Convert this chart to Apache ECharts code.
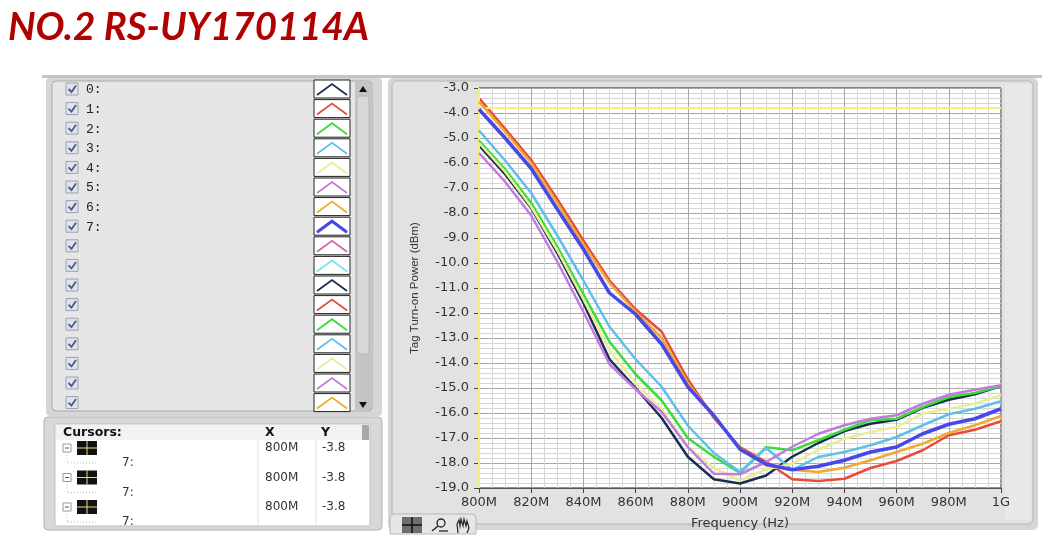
<!DOCTYPE html>
<html><head><meta charset="utf-8">
<script src="https://cdn.jsdelivr.net/npm/echarts@6/dist/echarts.min.js"></script>
<style>html,body{margin:0;padding:0;background:#fff}#c{width:1053px;height:550px}</style>
</head><body><div id="c"></div>
<script>
// ---- data ----
const titleText = 'NO.2 RS-UY170114A';
const freqs = [800,810,820,830,840,850,860,870,880,890,900,910,920,930,940,950,960,970,980,990,1000];
const s0 = [-5.3,-6.45,-7.8,-9.6,-11.6,-13.85,-15.0,-16.2,-17.75,-18.65,-18.82,-18.5,-17.75,-17.2,-16.72,-16.43,-16.27,-15.79,-15.47,-15.25,-14.92];
const s1 = [-3.4,-4.63,-5.88,-7.45,-9.1,-10.7,-11.85,-12.75,-14.65,-16.2,-17.36,-17.95,-18.65,-18.72,-18.63,-18.2,-17.92,-17.49,-16.89,-16.67,-16.33];
const s2 = [-5.1,-6.25,-7.6,-9.35,-11.25,-13.15,-14.45,-15.5,-17.0,-17.75,-18.4,-17.37,-17.49,-17.09,-16.67,-16.29,-16.23,-15.76,-15.36,-15.2,-14.92];
const s3 = [-4.7,-5.9,-7.2,-8.9,-10.7,-12.55,-13.85,-14.95,-16.5,-17.6,-18.36,-17.4,-18.27,-17.76,-17.56,-17.29,-16.96,-16.49,-16.05,-15.83,-15.53];
const s4 = [-5.2,-6.35,-7.75,-9.5,-11.45,-13.5,-14.8,-15.85,-17.35,-18.2,-18.7,-18.25,-18.03,-17.47,-17.03,-16.76,-16.56,-16.03,-15.83,-15.63,-15.29];
const s5 = [-5.6,-6.75,-8.1,-9.95,-11.95,-14.05,-15.05,-15.96,-17.36,-18.43,-18.45,-17.96,-17.35,-16.83,-16.49,-16.23,-16.09,-15.63,-15.27,-15.07,-14.89];
const s6 = [-3.55,-4.75,-6.0,-7.6,-9.25,-10.8,-11.95,-13.0,-14.8,-16.15,-17.4,-18.1,-18.27,-18.36,-18.19,-17.89,-17.56,-17.23,-16.8,-16.49,-16.12];
const s7 = [-3.85,-5.0,-6.22,-7.85,-9.45,-11.2,-12.05,-13.25,-14.95,-16.1,-17.45,-18.05,-18.27,-18.13,-17.89,-17.56,-17.36,-16.83,-16.45,-16.23,-15.83];
const seriesNames = ['0:','1:','2:','3:','4:','5:','6:','7:'];
const seriesColors = ['#1c2e50','#e84a3c','#3cdc3c','#5ec0ea','#e6ee9a','#c27ae0','#f0aa30','#4848e8'];
const seriesWidths = [2.5,2.5,2.5,2.5,2.5,2.5,2.5,3.5];
const legendLabels = ['0:','1:','2:','3:','4:','5:','6:','7:','','','','','','','','',''];
const legendColors = ['#1c2e50','#e84a3c','#3cdc3c','#5ec0ea','#e6ee9a','#c27ae0','#f0aa30','#4848e8','#d864a8','#7ae4ec','#1c2e50','#e84a3c','#3cdc3c','#5ec0ea','#e6ee9a','#c27ae0','#f0aa30'];
const cursorX = 800, cursorY = -3.8;
const cursorRows = [{x:'800M', y:'-3.8', plot:'7:'},{x:'800M', y:'-3.8', plot:'7:'},{x:'800M', y:'-3.8', plot:'7:'}];
const yName = 'Tag Turn-on Power (dBm)';
const xName = 'Frequency (Hz)';

const allSeries = [s0,s1,s2,s3,s4,s5,s6,s7];

// ---- UI decoration (panels) ----
const g = [];
g.push({type:'rect', z:-20, shape:{x:42,y:75,width:1000,height:3}, style:{fill:'#c4c4c4'}});
g.push({type:'rect', z:-10, shape:{x:46,y:78,width:336,height:338,r:4}, style:{fill:'#d6d6d6'}});
g.push({type:'rect', z:-9, shape:{x:52,y:81,width:320,height:330,r:4}, style:{fill:'#e6e6e6', stroke:'#a8a8a8', lineWidth:1}});
g.push({type:'rect', z:-8, shape:{x:355,y:82,width:16,height:328}, style:{fill:'#c4c4c4'}});
g.push({type:'rect', z:-7, shape:{x:357,y:96,width:12,height:258,r:3}, style:{fill:'#d8d8d8', stroke:'#b8b8b8'}});
g.push({type:'polygon', z:-6, shape:{points:[[359,92],[367,92],[363,86]]}, style:{fill:'#111'}});
g.push({type:'polygon', z:-6, shape:{points:[[359,402],[367,402],[363,408]]}, style:{fill:'#111'}});
legendLabels.forEach((lab,i)=>{
  const cy = 89 + i*19.6;
  g.push({type:'rect', z:-5, shape:{x:66,y:cy-6,width:12,height:12}, style:{fill:'#dfe4ec', stroke:'#98a2b4', lineWidth:1}});
  g.push({type:'polyline', z:-4, shape:{points:[[68.5,cy],[71.5,cy+3],[76,cy-3.5]]}, style:{stroke:'#4a5a84', lineWidth:1.8, fill:null}});
  if (lab) g.push({type:'text', z:-4, style:{text:lab, x:86, y:cy+1, textVerticalAlign:'middle', font:'13px "Liberation Mono", monospace', fill:'#222'}});
  g.push({type:'rect', z:-5, shape:{x:314,y:cy-9,width:36,height:18}, style:{fill:'#fff', stroke:'#222', lineWidth:1}});
  g.push({type:'polyline', z:-4, shape:{points:[[317,cy+6],[332,cy-5],[347,cy+6]]}, style:{stroke:legendColors[i], lineWidth:(i===7?3:1.8), fill:null}});
});
g.push({type:'rect', z:-10, shape:{x:44,y:417,width:338,height:113,r:4}, style:{fill:'#d8d8d8', stroke:'#b0b0b0'}});
g.push({type:'rect', z:-9, shape:{x:55,y:424,width:315,height:102}, style:{fill:'#fff', stroke:'#c0c0c0'}});
g.push({type:'rect', z:-8, shape:{x:56,y:425,width:313,height:15}, style:{fill:'#f2f2f2'}});
g.push({type:'rect', z:-7, shape:{x:362,y:425,width:7,height:15}, style:{fill:'#a8a8a8'}});
g.push({type:'line', z:-7, shape:{x1:258,y1:440,x2:258,y2:525}, style:{stroke:'#e0e0e0'}});
g.push({type:'line', z:-7, shape:{x1:316,y1:440,x2:316,y2:525}, style:{stroke:'#e0e0e0'}});
g.push({type:'text', z:-6, style:{text:'Cursors:', x:63, y:433, textVerticalAlign:'middle', font:'bold 12.5px "DejaVu Sans", sans-serif', fill:'#111'}});
g.push({type:'text', z:-6, style:{text:'X', x:265, y:433, textVerticalAlign:'middle', font:'bold 12.5px "DejaVu Sans", sans-serif', fill:'#111'}});
g.push({type:'text', z:-6, style:{text:'Y', x:321, y:433, textVerticalAlign:'middle', font:'bold 12.5px "DejaVu Sans", sans-serif', fill:'#111'}});
cursorRows.forEach((r,i)=>{
  const cy = 448 + i*29.5;
  g.push({type:'rect', z:-6, shape:{x:63,y:cy-4,width:8,height:8}, style:{fill:'#fff', stroke:'#999'}});
  g.push({type:'line', z:-5, shape:{x1:65,y1:cy,x2:69,y2:cy}, style:{stroke:'#555'}});
  g.push({type:'rect', z:-6, shape:{x:77,y:cy-7,width:20,height:14}, style:{fill:'#111'}});
  g.push({type:'line', z:-5, shape:{x1:77,y1:cy,x2:97,y2:cy}, style:{stroke:'#e8e080', lineWidth:1}});
  g.push({type:'line', z:-5, shape:{x1:87,y1:cy-7,x2:87,y2:cy+7}, style:{stroke:'#e8e080', lineWidth:1}});
  g.push({type:'polyline', z:-6, shape:{points:[[67,cy+4],[67,cy+15],[98,cy+15]]}, style:{stroke:'#bbb', lineDash:[1,2], fill:null}});
  g.push({type:'text', z:-6, style:{text:r.plot, x:122, y:cy+15, textVerticalAlign:'middle', font:'12px "DejaVu Sans", sans-serif', fill:'#333'}});
  g.push({type:'text', z:-6, style:{text:r.x, x:265, y:cy, textVerticalAlign:'middle', font:'12px "DejaVu Sans", sans-serif', fill:'#333'}});
  g.push({type:'text', z:-6, style:{text:r.y, x:322, y:cy, textVerticalAlign:'middle', font:'12px "DejaVu Sans", sans-serif', fill:'#333'}});
});
g.push({type:'rect', z:-3, shape:{x:40,y:531,width:1013,height:19}, style:{fill:'#fff'}});
g.push({type:'rect', z:-10, shape:{x:388,y:78,width:650,height:452,r:5}, style:{fill:'#d6d6d6'}});
g.push({type:'rect', z:-9, shape:{x:392,y:81,width:641,height:443,r:5}, style:{fill:'#e2e2e2', stroke:'#b4b4b4'}});
g.push({type:'rect', z:-8, shape:{x:1005,y:84,width:26,height:436}, style:{fill:'#e8e8e8'}});
g.push({type:'rect', z:-2, shape:{x:390,y:514,width:86,height:20,r:[4,4,0,0]}, style:{fill:'#e6e6e6', stroke:'#b8b8b8'}});
g.push({type:'rect', z:-1, shape:{x:402,y:517,width:20,height:16}, style:{fill:'#6e6e6e'}});
g.push({type:'line', z:0, shape:{x1:402,y1:525,x2:422,y2:525}, style:{stroke:'#111', lineWidth:1.5}});
g.push({type:'line', z:0, shape:{x1:412,y1:517,x2:412,y2:533}, style:{stroke:'#111', lineWidth:1.5}});
g.push({type:'circle', z:0, shape:{cx:441,cy:523,r:4}, style:{fill:null, stroke:'#222', lineWidth:1.3}});
g.push({type:'line', z:0, shape:{x1:432,y1:531,x2:438,y2:526}, style:{stroke:'#222', lineWidth:1.5}});
g.push({type:'line', z:0, shape:{x1:439,y1:531,x2:448,y2:531}, style:{stroke:'#222', lineWidth:1.3}});
g.push({type:'polyline', z:0, shape:{points:[[458,533],[457,524],[459,520],[460,526],[461,519],[463,526],[464,519],[466,526],[467,521],[469,528],[467,533]]}, style:{fill:null, stroke:'#222', lineWidth:1.2}});
g.push({type:'text', z:1, style:{text:titleText, x:8, y:28, textVerticalAlign:'middle', font:'italic bold 38.5px Lato, "Liberation Sans", sans-serif', fill:'#b00000'}});

const fmtX = v => v >= 1000 ? (v/1000)+'G' : v+'M';

const series = allSeries.map((arr,k)=>({
  name: seriesNames[k], type:'line', symbol:'none', z: 3+k,
  data: freqs.map((f,i)=>[f, arr[i]]),
  lineStyle:{color: seriesColors[k], width: seriesWidths[k]},
  itemStyle:{color: seriesColors[k]}, animation:false
}));
series.push({
  type:'line', data:[], z: 2, silent:true,
  markLine:{symbol:'none', silent:true, label:{show:false},
    lineStyle:{color:'#f4f07a', width:2, type:'solid'},
    data:[{yAxis: cursorY}, {xAxis: cursorX}]}
});

const chart = echarts.init(document.getElementById('c'), null, {renderer:'canvas'});
chart.setOption({
  animation:false,
  backgroundColor:'#ffffff',
  graphic: g,
  grid:{left:479, top:88, width:522, height:400, show:true, backgroundColor:'#ffffff', borderColor:'#222', borderWidth:1, z:0},
  xAxis:{type:'value', min:800, max:1000, interval:20,
    name:xName, nameLocation:'middle', nameGap:29,
    nameTextStyle:{fontFamily:'DejaVu Sans', fontSize:13, color:'#333'},
    axisLine:{show:true, lineStyle:{color:'#555'}},
    axisTick:{show:true, length:5, lineStyle:{color:'#444'}},
    minorTick:{show:false, splitNumber:4},
    axisLabel:{formatter:fmtX, fontFamily:'DejaVu Sans', fontSize:13, color:'#333', margin:8},
    splitLine:{show:true, lineStyle:{color:'#a6a6a6', width:1}},
    minorSplitLine:{show:true, lineStyle:{color:'#d6d6d6', width:1}}},
  yAxis:{type:'value', min:-19, max:-3, interval:1,
    name:yName, nameLocation:'middle', nameGap:58, nameRotate:90,
    nameTextStyle:{fontFamily:'Liberation Sans', fontSize:11.5, color:'#333'},
    axisLine:{show:true, lineStyle:{color:'#555'}},
    axisTick:{show:true, length:5, lineStyle:{color:'#444'}},
    minorTick:{show:false, splitNumber:5},
    axisLabel:{formatter: v => v.toFixed(1), fontFamily:'DejaVu Sans', fontSize:13, color:'#333', margin:10},
    splitLine:{show:true, lineStyle:{color:'#a6a6a6', width:1}},
    minorSplitLine:{show:true, lineStyle:{color:'#d6d6d6', width:1}}},
  series: series
});
</script></body></html>
